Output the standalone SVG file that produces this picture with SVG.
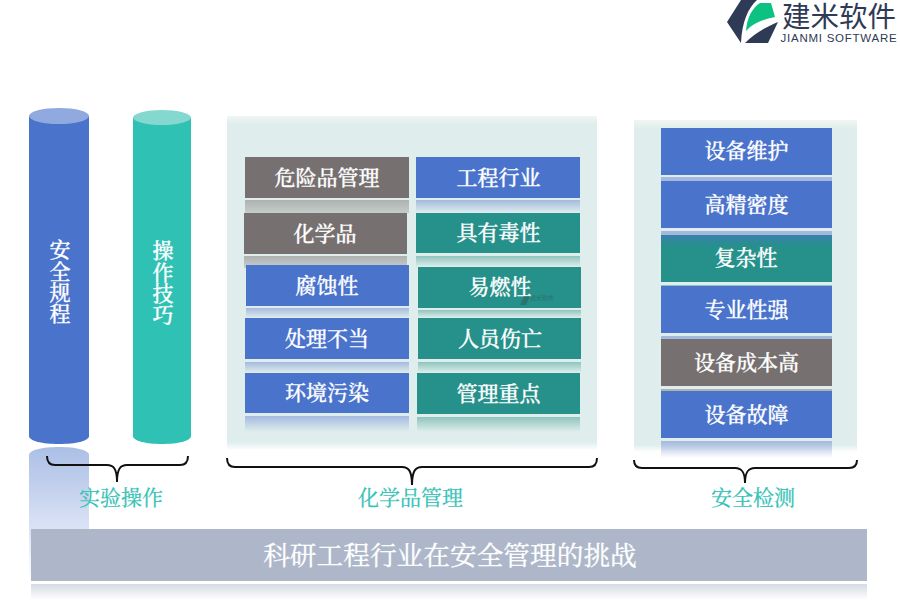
<svg xmlns="http://www.w3.org/2000/svg" width="900" height="600" viewBox="0 0 900 600">
<style>
text{font-family:"Noto Serif CJK SC","Liberation Serif","Noto Sans CJK SC",serif;text-anchor:middle;dominant-baseline:central}
.t{fill:#fff;font-size:21px;font-weight:500;stroke:#fff;stroke-width:.3px}
.v{writing-mode:vertical-rl;letter-spacing:.4px}
.l{fill:#33C2B6;font-size:21px;stroke:#33C2B6;stroke-width:.25px}
.g{fill:#767070}.b{fill:#4A73CC}.e{fill:#26908A}
.brace{fill:none;stroke:#111;stroke-width:2}
.panel{fill:url(#pn)}
.fade{fill:url(#pf)}
</style>
<defs>
<linearGradient id="pn" x1="0" y1="0" x2="0" y2="1"><stop offset="0" stop-color="#F1F5F4"/><stop offset=".025" stop-color="#DFEEEC"/><stop offset="1" stop-color="#DFEEEC"/></linearGradient>
<linearGradient id="pf" x1="0" y1="0" x2="0" y2="1"><stop offset="0" stop-color="#DFEEEC"/><stop offset="1" stop-color="#DFEEEC" stop-opacity="0"/></linearGradient>
<linearGradient id="fb" x1="0" y1="0" x2="0" y2="1"><stop offset="0" stop-color="#A5B9DF"/><stop offset="1" stop-color="#A5B9DF" stop-opacity="0"/></linearGradient>
<linearGradient id="fe" x1="0" y1="0" x2="0" y2="1"><stop offset="0" stop-color="#8FC4BE"/><stop offset="1" stop-color="#8FC4BE" stop-opacity="0"/></linearGradient>
<linearGradient id="fg" x1="0" y1="0" x2="0" y2="1"><stop offset="0" stop-color="#AEB2B0"/><stop offset="1" stop-color="#AEB2B0" stop-opacity=".55"/></linearGradient>
<linearGradient id="cy" x1="0" y1="0" x2="0" y2="1"><stop offset="0" stop-color="#ABBFE6"/><stop offset=".62" stop-color="#DCE3F5"/><stop offset="1" stop-color="#FFFFFF"/></linearGradient>
<linearGradient id="bar" x1="0" y1="0" x2="0" y2="1"><stop offset="0" stop-color="#D5DAE4"/><stop offset="1" stop-color="#D5DAE4" stop-opacity="0"/></linearGradient>
<linearGradient id="mix" x1="0" y1="0" x2="0" y2="1"><stop offset="0" stop-color="#4A73CC" stop-opacity=".55"/><stop offset="1" stop-color="#4A73CC" stop-opacity="0"/></linearGradient>
</defs>

<g id="logo">
<path d="M741 0H757C748 8 742 22 741 43L727 22Z" fill="#2F3A56"/>
<path d="M746 31C747 18 752 8 760 3H771L775 17C764 19 753 23 746 31Z" fill="#0CC182"/>
<path d="M745 43C755 33 766 27 778 22L768 43Z" fill="#2F3A56"/>
<text x="839" y="14" style="font-family:'Noto Sans CJK SC',sans-serif;font-size:28.500px;fill:#2F3A56">建米软件</text>
<text x="839" y="38" style="font-family:'Liberation Sans',sans-serif;font-size:11.500px;letter-spacing:.75px;fill:#2F3A56">JIANMI SOFTWARE</text>
</g>

<g id="cylinder-reflection">
<path d="M29 580V455C29 450 42 447 59 447S89 450 89 455V580Z" fill="url(#cy)"/>
</g>
<g id="cylinder-safety">
<path d="M29 116V436C29 441 42 444 59 444S89 441 89 436V116Z" class="b"/>
<ellipse cx="59" cy="116" rx="30" ry="8" fill="#90A9DF"/>
<text class="t v" x="60" y="281.500">安全规程</text>
</g>
<g id="cylinder-skill">
<path d="M133 117V436C133 441 146 444 162 444S191 441 191 436V117Z" fill="#30C1B5"/>
<ellipse cx="162" cy="117.500" rx="29" ry="7.500" fill="#85D8D0"/>
<text class="t v" x="163" y="282.500">操作技巧</text>
</g>

<g id="panels">
<rect class="panel" x="227" y="116" width="370" height="326"/>
<rect class="fade" x="227" y="442" width="370" height="8"/>
<rect class="panel" x="634" y="120" width="223" height="325"/>
<rect class="fade" x="634" y="445" width="223" height="7"/>
</g>

<g id="reflections">
<rect x="245" y="200" width="164" height="13" fill="url(#fg)"/>
<rect x="416" y="200" width="164" height="13" fill="url(#fb)"/>
<rect x="244" y="256" width="163" height="12" fill="url(#fg)"/>
<rect x="416" y="256" width="164" height="11" fill="url(#fe)"/>
<rect x="246" y="308" width="163" height="10" fill="url(#fb)"/>
<rect x="418" y="310" width="163" height="8" fill="url(#fe)"/>
<rect x="245" y="362" width="164" height="11" fill="url(#fb)"/>
<rect x="418" y="362" width="163" height="11" fill="url(#fe)"/>
<rect x="245" y="416" width="164" height="16" fill="url(#fb)"/>
<rect x="417" y="417" width="163" height="15" fill="url(#fe)"/>
<rect x="661" y="177" width="171" height="4" fill="#A5B9DF"/>
<rect x="661" y="231" width="171" height="4" fill="#A5B9DF"/>
<rect x="661" y="285" width="171" height="1" fill="#8FC4BE"/>
<rect x="661" y="336" width="171" height="3" fill="#A5B9DF"/>
<rect x="661" y="389" width="171" height="2" fill="#AEB2B0"/>
<rect x="661" y="441" width="171" height="17" fill="url(#fb)"/>
<rect x="31" y="584" width="836" height="16" fill="url(#bar)"/>
</g>

<g id="node-weixianpin"><rect class="g" x="245" y="157" width="164" height="41"/><text class="t" x="327" y="175.500">危险品管理</text></g>
<g id="node-gongcheng"><rect class="b" x="416" y="157" width="164" height="41"/><text class="t" x="498.500" y="175.500">工程行业</text></g>
<g id="node-huaxuepin"><rect class="g" x="244" y="213" width="163" height="41"/><text class="t" x="325" y="231.500">化学品</text></g>
<g id="node-duxing"><rect class="e" x="416" y="213" width="164" height="40"/><text class="t" x="498.500" y="230.500">具有毒性</text></g>
<g id="node-fushi"><rect class="b" x="246" y="265" width="163" height="41"/><text class="t" x="327" y="283.500">腐蚀性</text></g>
<g id="node-yiran"><rect class="e" x="418" y="267" width="163" height="41"/><text class="t" x="500" y="285">易燃性</text>
<g id="watermark" opacity=".55"><path d="M520 305L524 296H530L526 305Z" fill="#2F5F5A"/><text x="542" y="297" style="font-family:'Noto Sans CJK SC',sans-serif;font-size:6px;fill:#2F5F5A">建米软件</text></g></g>
<g id="node-chuli"><rect class="b" x="245" y="318" width="164" height="41"/><text class="t" x="327" y="336.500">处理不当</text></g>
<g id="node-shangwang"><rect class="e" x="418" y="318" width="163" height="41"/><text class="t" x="500" y="336.500">人员伤亡</text></g>
<g id="node-huanjing"><rect class="b" x="245" y="373" width="164" height="40"/><text class="t" x="327" y="390.500">环境污染</text></g>
<g id="node-zhongdian"><rect class="e" x="417" y="373" width="163" height="41"/><text class="t" x="498.500" y="391.500">管理重点</text></g>

<g id="node-weihu"><rect class="b" x="661" y="128" width="171" height="47"/><text class="t" x="746.500" y="149">设备维护</text></g>
<g id="node-gaojing"><rect class="b" x="661" y="181" width="171" height="47"/><text class="t" x="746.500" y="203">高精密度</text></g>
<g id="node-fuza"><rect class="e" x="661" y="235" width="171" height="47"/><rect x="661" y="235" width="171" height="11" fill="url(#mix)"/><text class="t" x="746" y="256">复杂性</text></g>
<g id="node-zhuanye"><rect class="b" x="661" y="286" width="171" height="47"/><text class="t" x="746.500" y="308">专业性强</text></g>
<g id="node-chengben"><rect class="g" x="661" y="339" width="171" height="47"/><text class="t" x="746.500" y="360.500">设备成本高</text></g>
<g id="node-guzhang"><rect class="b" x="661" y="391" width="171" height="47"/><text class="t" x="746.500" y="412.500">设备故障</text></g>

<g id="connectors">
<path class="brace" d="M47 456C47 463 50 465 55 465H107C113 465 117 468 117 482C117 468 121 465 127 465H180C185 465 188 463 188 456"/>
<path class="brace" d="M227 458C227 465 230 467 235 467H402C408 467 412 470 412 485C412 470 416 467 422 467H589C594 467 597 465 597 458"/>
<path class="brace" d="M634 460C634 466 637 468 642 468H735C741 468 745 471 745 483C745 471 749 468 755 468H849C854 468 857 466 857 460"/>
</g>

<g id="labels">
<text class="l" x="121" y="495.500">实验操作</text>
<text class="l" x="410.500" y="495.500">化学品管理</text>
<text class="l" x="753" y="495.500">安全检测</text>
</g>

<g id="node-title"><rect x="31" y="529" width="836" height="52" fill="#ADB7C9"/><text x="450" y="553.500" style="fill:#fff;stroke:#fff;stroke-width:.3px;font-size:26.700px">科研工程行业在安全管理的挑战</text></g>
</svg>
